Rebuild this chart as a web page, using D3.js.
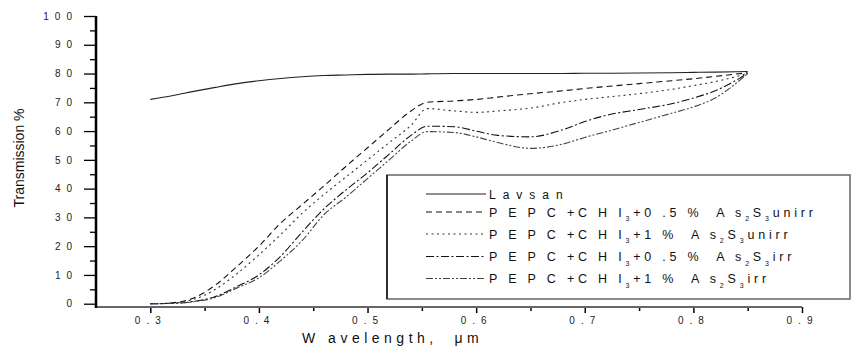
<!DOCTYPE html>
<html>
<head>
<meta charset="utf-8">
<script src="https://cdn.jsdelivr.net/npm/d3@7"></script>
<style>
  body { margin: 0; background: #fff; }
  svg { display: block; font-family: Arial, "Liberation Sans", sans-serif; }
</style>
</head>
<body>
<svg id="chart" width="853" height="347"></svg>
<script>
// wavelength grid, um
var wavelength = [0.30, 0.32, 0.34, 0.36, 0.38, 0.40, 0.42, 0.44, 0.46, 0.48, 0.50, 0.52, 0.54, 0.555,
                  0.58, 0.60, 0.62, 0.65, 0.68, 0.70, 0.72, 0.75, 0.78, 0.80, 0.82, 0.85];

var lavsan    = [71, 72.3, 73.8, 75.2, 76.5, 77.5, 78.3, 78.9, 79.3, 79.5, 79.7, 79.8, 79.8, 79.9,
                 80, 80, 80, 80, 80, 80.1, 80.1, 80.2, 80.3, 80.4, 80.5, 80.7];
var unirr05   = [0, 0.3, 2, 6.5, 13, 20, 28, 34.5, 41, 47.7, 54.2, 60.7, 67, 70,
                 70.5, 71, 71.8, 73, 74, 74.8, 75.5, 76.5, 77.5, 78.2, 79, 80.3];
var unirr1    = [0, 0.2, 1.5, 5, 10.5, 17, 24, 31.5, 38, 44, 50, 56, 62, 67.8,
                 67, 66.5, 67, 68, 70, 71, 71.8, 73, 74.5, 75.8, 77.2, 80];
var irr05     = [0, 0.1, 0.8, 2.5, 6, 10, 16.5, 25, 33, 39.5, 45.5, 52, 58.5, 61.7,
                 61.5, 60, 58.5, 58, 60.5, 63.3, 65.5, 67.5, 69.5, 71.5, 74, 80];
var irr1      = [0, 0.1, 0.7, 2.2, 5.5, 9, 15, 22, 31, 37, 43.5, 50, 56.5, 59.8,
                 59.5, 58, 56, 54, 55.5, 57.8, 59.8, 63, 66.2, 68.4, 71.5, 80];

var xMajor = [0.3, 0.4, 0.5, 0.6, 0.7, 0.8, 0.9];
var xMinor = [0.35, 0.45, 0.55, 0.65, 0.75, 0.85];
var yMajor = [0, 10, 20, 30, 40, 50, 60, 70, 80, 90, 100];
var yMinor = [5, 15, 25, 35, 45, 55, 65, 75, 85, 95];

// legend text pieces: [text, isSubscript]
var legendLabels = [
  [["Lavsan", 0]],
  [["P E P C +C H I", 0], ["3", 1], ["+0 .5 %  A s", 0], ["2", 1], ["S", 0], ["3", 1], ["unirr", 0]],
  [["P E P C +C H I", 0], ["3", 1], ["+1 %  A s", 0], ["2", 1], ["S", 0], ["3", 1], ["unirr", 0]],
  [["P E P C +C H I", 0], ["3", 1], ["+0 .5 %  A s", 0], ["2", 1], ["S", 0], ["3", 1], ["irr", 0]],
  [["P E P C +C H I", 0], ["3", 1], ["+1 %  A s", 0], ["2", 1], ["S", 0], ["3", 1], ["irr", 0]]
];

var seriesList = [
  { values: lavsan,  dash: null,              color: "#222" },
  { values: unirr05, dash: "6,4",             color: "#111" },
  { values: unirr1,  dash: "2,3.5",           color: "#333" },
  { values: irr05,   dash: "8,2.5,2,2.5",     color: "#111" },
  { values: irr1,    dash: "7,2,2,2,2,2",     color: "#444" }
];

var svg = d3.select("#chart");

var x = d3.scaleLinear().domain([0.25, 0.9]).range([96, 802]);
var y = d3.scaleLinear().domain([0, 100]).range([303.7, 16]);
var axisY = 307;

// curves
var line = d3.line()
  .x(function (d) { return x(d[0]); })
  .y(function (d) { return y(d[1]); })
  .curve(d3.curveMonotoneX);

svg.append("g").selectAll("path")
  .data(seriesList)
  .enter()
  .append("path")
  .attr("fill", "none")
  .attr("stroke", function (d) { return d.color; })
  .attr("stroke-width", 1.1)
  .attr("stroke-dasharray", function (d) { return d.dash; })
  .attr("d", function (d) {
    return line(wavelength.map(function (w, i) { return [w, d.values[i]]; }));
  });

// y axis
var gy = svg.append("g").attr("transform", "translate(96,0)");
gy.call(d3.axisLeft(y).tickValues(yMajor).tickSize(12).tickPadding(6)
  .tickFormat(function (d) { return d; }));
gy.append("g").call(d3.axisLeft(y).tickValues(yMinor).tickSize(6).tickFormat(""));
gy.selectAll(".domain").remove();
gy.selectAll("line").attr("stroke", "#000").attr("stroke-width", 1.3);
gy.selectAll("text")
  .attr("fill", "#222")
  .style("font-size", "10px")
  .style("letter-spacing", "6px");

// x axis
var gx = svg.append("g").attr("transform", "translate(0," + axisY + ")");
gx.call(d3.axisBottom(x).tickValues(xMajor).tickSize(6).tickPadding(3.7)
  .tickFormat(d3.format(".1f")));
gx.append("g").call(d3.axisBottom(x).tickValues(xMinor).tickSize(4).tickFormat(""));
gx.selectAll(".domain").remove();
gx.selectAll("line").attr("stroke", "#000").attr("stroke-width", 1.5);
gx.selectAll("text")
  .attr("fill", "#222")
  .style("font-size", "10px")
  .style("letter-spacing", "6px");

svg.append("line")
  .attr("x1", 96).attr("x2", 802)
  .attr("y1", axisY).attr("y2", axisY)
  .attr("stroke", "#666").attr("stroke-width", 2);
svg.append("line")
  .attr("x1", 96).attr("x2", 96)
  .attr("y1", y(100)).attr("y2", axisY + 1)
  .attr("stroke", "#000").attr("stroke-width", 2.5);

// axis titles
svg.append("text")
  .attr("x", 302).attr("y", 343)
  .style("font-size", "14px")
  .style("letter-spacing", "4.5px")
  .style("white-space", "pre")
  .attr("fill", "#111")
  .text("W avelength,  \u03bcm");

svg.append("text")
  .attr("transform", "translate(24,158) rotate(-90)")
  .attr("text-anchor", "middle")
  .style("font-size", "14px")
  .attr("fill", "#111")
  .text("Transmission %");

// legend
var legend = svg.append("g");
legend.append("rect")
  .attr("x", 387).attr("y", 175)
  .attr("width", 463).attr("height", 124)
  .attr("fill", "#fff")
  .attr("stroke", "#666").attr("stroke-width", 1.5);
legend.append("line")
  .attr("x1", 387).attr("x2", 387).attr("y1", 175).attr("y2", 299)
  .attr("stroke", "#111").attr("stroke-width", 1.5);

var rowY = [194, 212, 234, 256.5, 278.5];

var rows = legend.selectAll("g.row")
  .data(seriesList)
  .enter()
  .append("g")
  .attr("class", "row")
  .attr("transform", function (d, i) { return "translate(0," + rowY[i] + ")"; });

rows.append("line")
  .attr("x1", 426).attr("x2", 486)
  .attr("stroke", function (d) { return d.color; })
  .attr("stroke-width", 1.1)
  .attr("stroke-dasharray", function (d) { return d.dash; });

rows.append("text")
  .attr("x", 489)
  .attr("y", 4.5)
  .attr("fill", "#111")
  .style("font-size", function (d, i) { return i === 0 ? "12px" : "12.5px"; })
  .style("letter-spacing", function (d, i) { return i === 0 ? "7px" : "3.8px"; })
  .style("white-space", "pre")
  .each(function (d, i) {
    var t = d3.select(this);
    var prevSub = false;
    legendLabels[i].forEach(function (piece) {
      var isSub = piece[1] === 1;
      var dy = 0;
      if (isSub && !prevSub) dy = 4.5;
      if (!isSub && prevSub) dy = -4.5;
      t.append("tspan")
        .attr("dy", dy)
        .style("font-size", isSub ? "7px" : null)
        .text(piece[0]);
      prevSub = isSub;
    });
  });
</script>
</body>
</html>
